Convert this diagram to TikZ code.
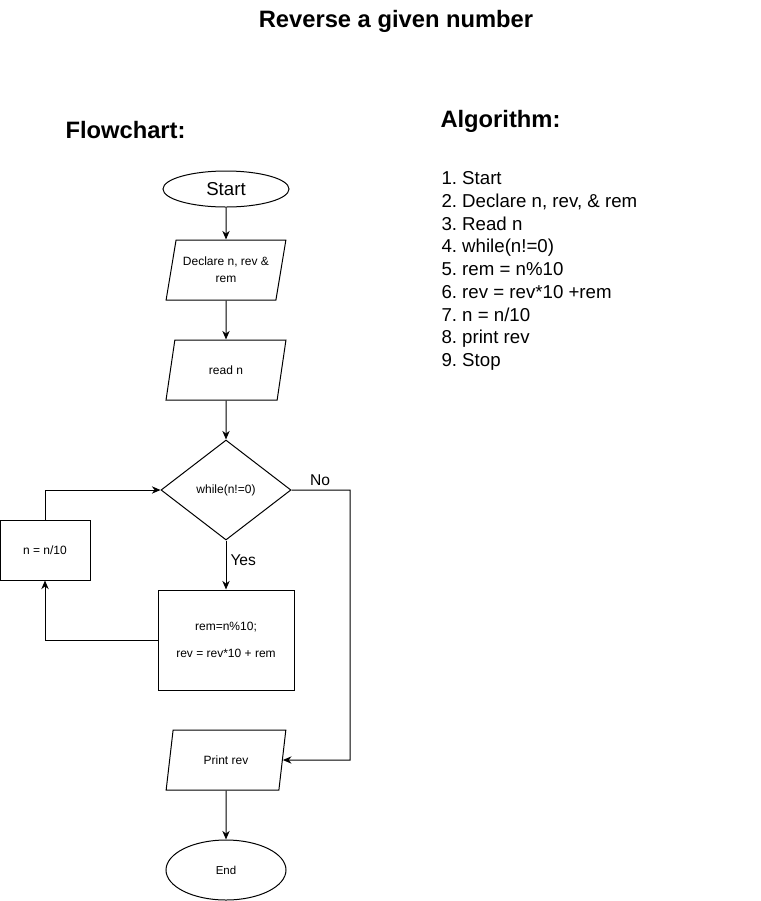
\documentclass[tikz,border=0pt]{standalone}
\usepackage{fontspec}
\setmainfont{Liberation Sans}
\usetikzlibrary{shapes.geometric,arrows.meta}
\begin{document}
\begin{tikzpicture}[x=0.75pt, y=-0.75pt, >={Stealth[length=6.5pt,width=5.5pt]}, line width=0.75pt,
		every node/.style={font=\fontsize{9}{12.75}\selectfont, inner sep=0pt},
		terminal/.style={draw, ellipse},
		io/.style={draw, trapezium, trapezium left angle=71.57, trapezium right angle=108.43, trapezium stretches=true, minimum width=90pt, minimum height=45pt, align=center},
		proc/.style={draw, rectangle, align=center},
		test/.style={draw, diamond, minimum width=97.5pt, minimum height=75pt},
		heading/.style={font=\fontsize{17.8}{21}\selectfont\bfseries},
		branch/.style={font=\fontsize{11.7}{14}\selectfont}]
	\useasboundingbox (0,0) rectangle (761,901);
	% headings
	\node[heading] (title) at (396,21) {Reverse a given number};
	\node[heading, anchor=west] (fchead) at (65,130) {Flowchart:};
	\node[heading, anchor=west] (alghead) at (440,121) {Algorithm:};
	% algorithm steps
	\foreach \i/\t in {1/Start, 2/{Declare n, rev, \& rem}, 3/Read n, 4/while(n!=0), 5/rem = n\%10, 6/rev = rev*10 +rem, 7/{n = n/10}, 8/print rev, 9/Stop}
		\node[anchor=base west, font=\fontsize{14}{17}\selectfont] (alg\i) at (441,{184.5+22.75*(\i-1)}) {\i.\ \t};
	% flowchart
	\node[terminal, minimum width=94.5pt, minimum height=27pt, font=\fontsize{14}{17}\selectfont] (start) at (226,189) {Start};
	\node[io] (declare) at (226,270) {Declare n, rev \&\\rem};
	\node[io] (read) at (226,370) {read n};
	\node[test] (loop) at (226,490) {while(n!=0)};
	\node[proc, minimum width=102pt, minimum height=75pt, font=\fontsize{9}{10.1}\selectfont] (body) at (226,640) {rem=n\%10;\\[10.1pt]rev = rev*10 + rem};
	\node[proc, minimum width=67.5pt, minimum height=45pt] (ndiv) at (45,550) {n = n/10};
	\node[io] (print) at (226,760) {Print rev};
	\node[terminal, minimum width=90pt, minimum height=45pt, font=\fontsize{8.6}{10}\selectfont] (end) at (226,870) {End};
	\coordinate (noturn) at (350,760);
	\draw[->] (start) -- (declare);
	\draw[->] (declare) -- (read);
	\draw[->] (read) -- (loop);
	\draw[->] (loop) -- (body);
	\draw[->] (body.west) -| (ndiv.south);
	\draw[->] (ndiv.north) |- (loop.west);
	\draw[->] (loop.east) -| (noturn) -- (print.east);
	\draw[->] (print) -- (end);
	\node[branch, anchor=west] (yes) at (230,560) {Yes};
	\node[branch] (no) at (320,480) {No};
\end{tikzpicture}
\end{document}
